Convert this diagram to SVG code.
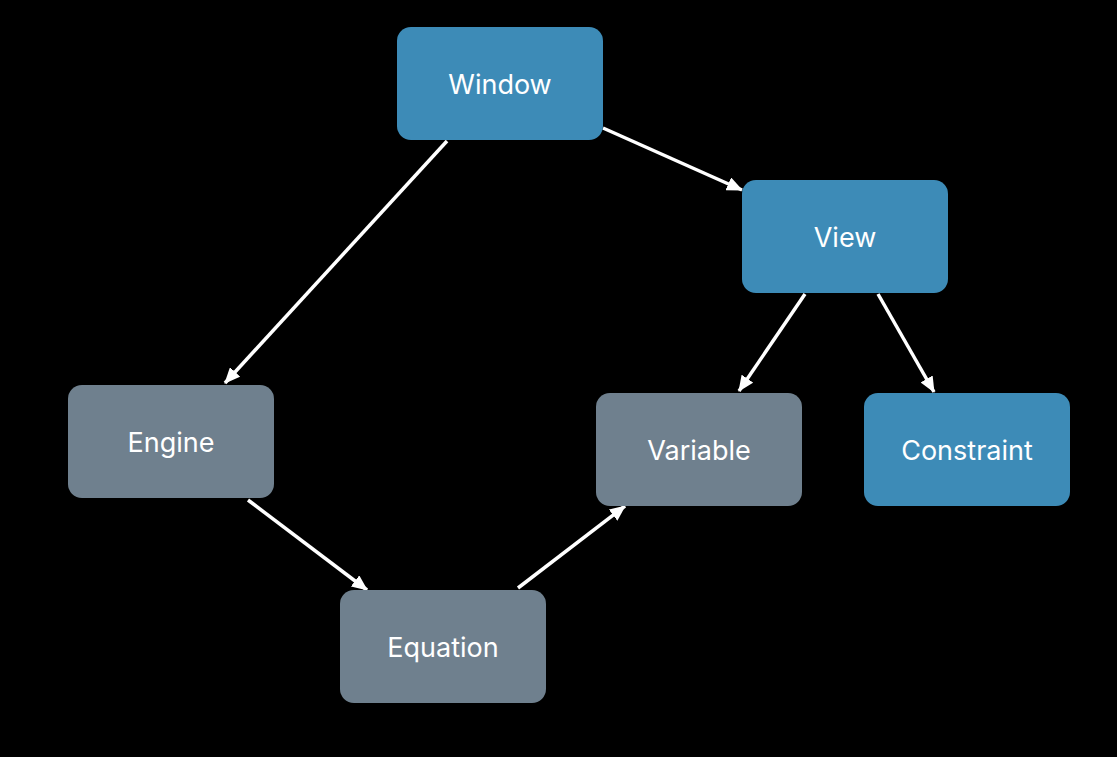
<svg xmlns="http://www.w3.org/2000/svg" width="1117" height="757" viewBox="0 0 1117 757">
<style>
.blue{fill:#3d8bb7}
.gray{fill:#6f808e}
.lbl{font-family:Inter,"Open Sans","Noto Sans",sans-serif;font-size:27px;font-weight:400;fill:#ffffff;text-anchor:middle;dominant-baseline:central}
.edge{stroke:#ffffff;stroke-width:3.5;fill:none;marker-end:url(#ah)}
</style>
<defs>
<marker id="ah" viewBox="0 0 16 14" refX="15" refY="7" markerWidth="16" markerHeight="14" markerUnits="userSpaceOnUse" orient="auto">
<path d="M0,0 L16,7 L0,14 z" fill="#ffffff"/>
</marker>
</defs>
<rect width="1117" height="757" fill="#000000"/>
<g id="connectors">
<line class="edge" x1="603" y1="128" x2="742" y2="190"/>
<line class="edge" x1="447" y1="141" x2="225" y2="383"/>
<line class="edge" x1="805" y1="294" x2="739" y2="391"/>
<line class="edge" x1="878" y1="294" x2="934" y2="392"/>
<line class="edge" x1="248" y1="500" x2="367" y2="590"/>
<line class="edge" x1="518" y1="588" x2="625" y2="506"/>
</g>
<g id="window"><rect class="blue" x="397" y="27" width="206" height="113" rx="14"/><text class="lbl" x="500" y="84">Window</text></g>
<g id="view"><rect class="blue" x="742" y="180" width="206" height="113" rx="14"/><text class="lbl" x="845" y="237">View</text></g>
<g id="engine"><rect class="gray" x="68" y="385" width="206" height="113" rx="14"/><text class="lbl" x="171" y="442">Engine</text></g>
<g id="variable"><rect class="gray" x="596" y="393" width="206" height="113" rx="14"/><text class="lbl" x="699" y="450">Variable</text></g>
<g id="constraint"><rect class="blue" x="864" y="393" width="206" height="113" rx="14"/><text class="lbl" x="967" y="450">Constraint</text></g>
<g id="equation"><rect class="gray" x="340" y="590" width="206" height="113" rx="14"/><text class="lbl" x="443" y="647">Equation</text></g>
</svg>
